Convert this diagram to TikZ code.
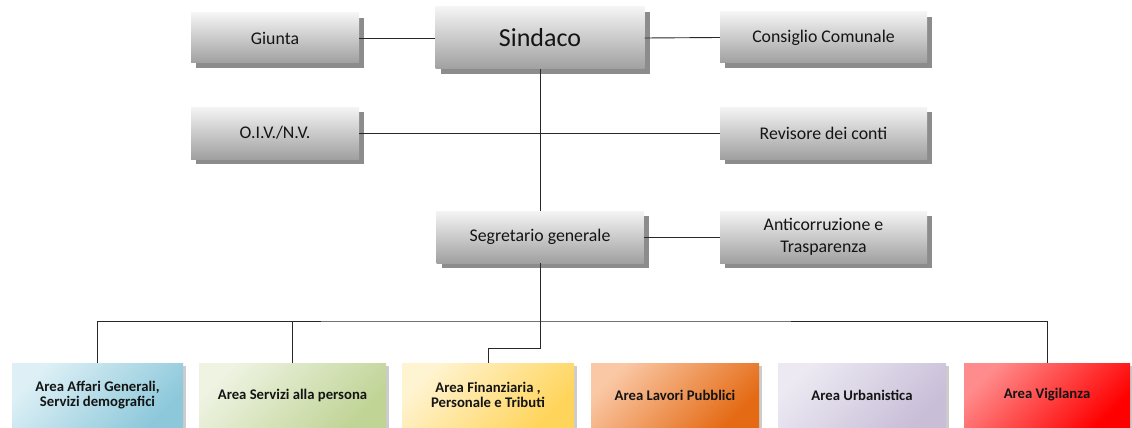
\documentclass[tikz,border=0pt]{standalone}
\usepackage{fontspec}
\setmainfont{Carlito}
\usetikzlibrary{shadows}
\definecolor{gtop}{RGB}{244,244,244}
\definecolor{gbot}{RGB}{160,160,160}
\definecolor{lnk}{RGB}{40,40,40}
\definecolor{txt}{RGB}{20,20,20}
\definecolor{blueA}{RGB}{222,240,246}\definecolor{blueB}{RGB}{140,200,218}
\definecolor{greenA}{RGB}{238,243,226}\definecolor{greenB}{RGB}{192,212,150}
\definecolor{yelA}{RGB}{255,244,210}\definecolor{yelB}{RGB}{255,212,90}
\definecolor{orA}{RGB}{250,200,165}\definecolor{orB}{RGB}{228,106,20}
\definecolor{purA}{RGB}{236,233,242}\definecolor{purB}{RGB}{200,190,216}
\definecolor{redA}{RGB}{255,140,140}\definecolor{redB}{RGB}{255,0,0}
\tikzset{
  graybox/.style={rectangle, inner sep=2pt, top color=gtop, bottom color=gbot, text=txt,
    align=center, font=\fontsize{17.8}{21.5}\selectfont,
    drop shadow={shadow xshift=5pt, shadow yshift=-5pt, fill=black, opacity=0.45}},
  areabox/.style={rectangle, inner sep=2pt, minimum height=64pt, text=txt, align=center,
    font=\bfseries\fontsize{14.7}{15}\selectfont,
    drop shadow={shadow xshift=2.5pt, shadow yshift=-2.5pt, fill=black, opacity=0.2}},
  link/.style={draw=lnk, line width=0.9pt},
}
\begin{document}
\begin{tikzpicture}[x=1pt,y=-1pt]
\useasboundingbox (0,0) rectangle (1132,428);
% top rows
\node[graybox, minimum width=168pt, minimum height=50pt] (giunta) at (275,38) {Giunta};
\node[graybox, minimum width=209pt, minimum height=62pt, font=\fontsize{26}{30}\selectfont] (sindaco) at (540,38) {Sindaco};
\node[graybox, minimum width=207pt, minimum height=51pt] (consiglio) at (823.5,37.5) {Consiglio Comunale};
\node[graybox, minimum width=168pt, minimum height=52pt] (oiv) at (275,133) {O.I.V./N.V.};
\node[graybox, minimum width=207pt, minimum height=52pt] (revisore) at (823.5,133) {Revisore dei conti};
\node[graybox, minimum width=207pt, minimum height=52pt] (segretario) at (540,237) {Segretario generale};
\node[graybox, minimum width=207pt, minimum height=52pt] (anticorr) at (823.5,237) {Anticorruzione e\\Trasparenza};
% bottom row
\node[areabox, minimum width=171pt, left color=blueA, right color=blueB, shading angle=45] (affari) at (97.5,395) {Area Affari Generali,\\Servizi demografici};
\node[areabox, minimum width=187pt, left color=greenA, right color=greenB, shading angle=45] (servizi) at (292.5,395) {Area Servizi alla persona};
\node[areabox, minimum width=172pt, left color=yelA, right color=yelB, shading angle=45] (finanz) at (488,395) {Area Finanziaria ,\\Personale e Tributi};
\node[areabox, minimum width=168pt, left color=orA, right color=orB, shading angle=45] (lavori) at (675,395) {Area Lavori Pubblici};
\node[areabox, minimum width=168pt, left color=purA, right color=purB, shading angle=45] (urban) at (862,395) {Area Urbanistica};
\node[areabox, minimum width=166pt, left color=redA, right color=redB, shading angle=45] (vigil) at (1047,395) {Area Vigilanza};
% coordinates
\coordinate (bus) at (540,321);
\coordinate (jog) at (540,348);
% connectors
\draw[link] (giunta.east) -- (sindaco.west);
\draw[link] (sindaco.east) -- (consiglio.west);
\draw[link] (sindaco.south) -- (segretario.north);
\draw[link] (oiv.east) -- (revisore.west);
\draw[link] (segretario.east) -- (anticorr.west);
\draw[link] (segretario.south) -- (jog) -| (finanz.north);
\draw[link] (affari.north) |- (bus) -| (vigil.north);
\draw[link] (servizi.north) -- (servizi.north |- bus);
\end{tikzpicture}
\end{document}
